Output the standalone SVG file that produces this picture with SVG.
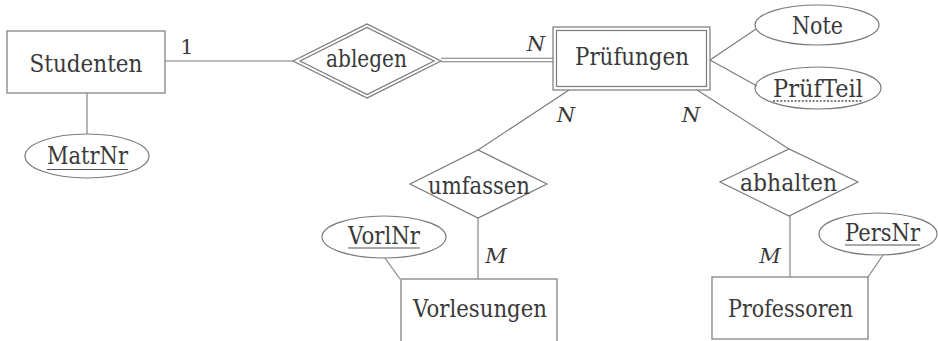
<svg xmlns="http://www.w3.org/2000/svg" width="938" height="341" viewBox="0 0 938 341">
<style>
.sh{fill:none;stroke:#7a7a7a;stroke-width:1.2}
.ln{fill:none;stroke:#7a7a7a;stroke-width:1.1}
.t{font-family:'DejaVu Serif',serif;font-size:25px;fill:#3a3a3a;text-anchor:middle}
.lab{font-family:'DejaVu Serif',serif;font-size:21px;fill:#3a3a3a;font-style:italic;text-anchor:middle}
.ul{stroke:#555;stroke-width:1.1}
.dul{stroke:#555;stroke-width:1.3;stroke-dasharray:2 1.6}
</style>
<rect width="938" height="341" fill="#ffffff"/>
<g id="connectors">
<line class="ln" x1="165" y1="61" x2="293" y2="61"/>
<line class="ln" x1="87" y1="93" x2="87" y2="134"/>
<line class="ln" x1="441" y1="58.2" x2="553" y2="58.2"/>
<line class="ln" x1="441" y1="61.8" x2="553" y2="61.8"/>
<line class="ln" x1="710" y1="60" x2="756" y2="29"/>
<line class="ln" x1="710" y1="60" x2="757" y2="86"/>
<line class="ln" x1="569" y1="90" x2="478" y2="150"/>
<line class="ln" x1="697" y1="90" x2="789" y2="149"/>
<line class="ln" x1="478" y1="218" x2="478" y2="279"/>
<line class="ln" x1="385" y1="258" x2="400" y2="279"/>
<line class="ln" x1="790" y1="216" x2="790" y2="277"/>
<line class="ln" x1="883" y1="255" x2="868" y2="277"/>
<text class="t" x="187" y="54" font-size="21" style="font-size:21px">1</text>
<text class="lab" x="536" y="51">N</text>
<text class="lab" x="566" y="122">N</text>
<text class="lab" x="691" y="122">N</text>
<text class="lab" x="496" y="263">M</text>
<text class="lab" x="770" y="263">M</text>
</g>
<g id="Studenten">
<rect class="sh" x="7" y="31" width="158" height="62"/>
<text class="t" x="86" y="72" textLength="113" lengthAdjust="spacingAndGlyphs">Studenten</text>
</g>
<g id="MatrNr">
<ellipse class="sh" cx="87" cy="156" rx="62" ry="22"/>
<text class="t" x="87.5" y="164" textLength="81" lengthAdjust="spacingAndGlyphs">MatrNr</text>
<line class="ul" x1="47" y1="169.5" x2="128" y2="169.5"/>
</g>
<g id="ablegen">
<polygon class="sh" points="293,61 367,24 441,61 367,98"/>
<polygon class="sh" points="300,61 367,27.5 434,61 367,94.5"/>
<text class="t" x="366.5" y="67" textLength="81" lengthAdjust="spacingAndGlyphs">ablegen</text>
</g>
<g id="Pruefungen">
<rect class="sh" x="553" y="27" width="157" height="63"/>
<rect class="sh" x="556.5" y="30.5" width="150" height="56"/>
<text class="t" x="632" y="65" textLength="114" lengthAdjust="spacingAndGlyphs">Prüfungen</text>
</g>
<g id="Note">
<ellipse class="sh" cx="817" cy="25" rx="62" ry="20"/>
<text class="t" x="817.5" y="34" textLength="51" lengthAdjust="spacingAndGlyphs">Note</text>
</g>
<g id="PruefTeil">
<ellipse class="sh" cx="818" cy="88" rx="63" ry="21"/>
<text class="t" x="818" y="97" textLength="90" lengthAdjust="spacingAndGlyphs">PrüfTeil</text>
<line class="dul" x1="773" y1="101" x2="863" y2="101"/>
</g>
<g id="umfassen">
<polygon class="sh" points="410,184 478,150 547,184 478,218"/>
<text class="t" x="479" y="194" textLength="102" lengthAdjust="spacingAndGlyphs">umfassen</text>
</g>
<g id="abhalten">
<polygon class="sh" points="720,182 789,149 858,182 789,216"/>
<text class="t" x="788.5" y="191" textLength="97" lengthAdjust="spacingAndGlyphs">abhalten</text>
</g>
<g id="VorlNr">
<ellipse class="sh" cx="384" cy="237" rx="62" ry="21"/>
<text class="t" x="384" y="244" textLength="72" lengthAdjust="spacingAndGlyphs">VorlNr</text>
<line class="ul" x1="348" y1="248" x2="420" y2="248"/>
</g>
<g id="Vorlesungen">
<rect class="sh" x="401" y="279" width="156" height="66"/>
<text class="t" x="480" y="317" textLength="134" lengthAdjust="spacingAndGlyphs">Vorlesungen</text>
</g>
<g id="PersNr">
<ellipse class="sh" cx="878" cy="234" rx="59" ry="21"/>
<text class="t" x="882.5" y="241" textLength="75" lengthAdjust="spacingAndGlyphs">PersNr</text>
<line class="ul" x1="845" y1="245" x2="920" y2="245"/>
</g>
<g id="Professoren">
<rect class="sh" x="712" y="277" width="156" height="62"/>
<text class="t" x="790.5" y="317" textLength="125" lengthAdjust="spacingAndGlyphs">Professoren</text>
</g>
</svg>
